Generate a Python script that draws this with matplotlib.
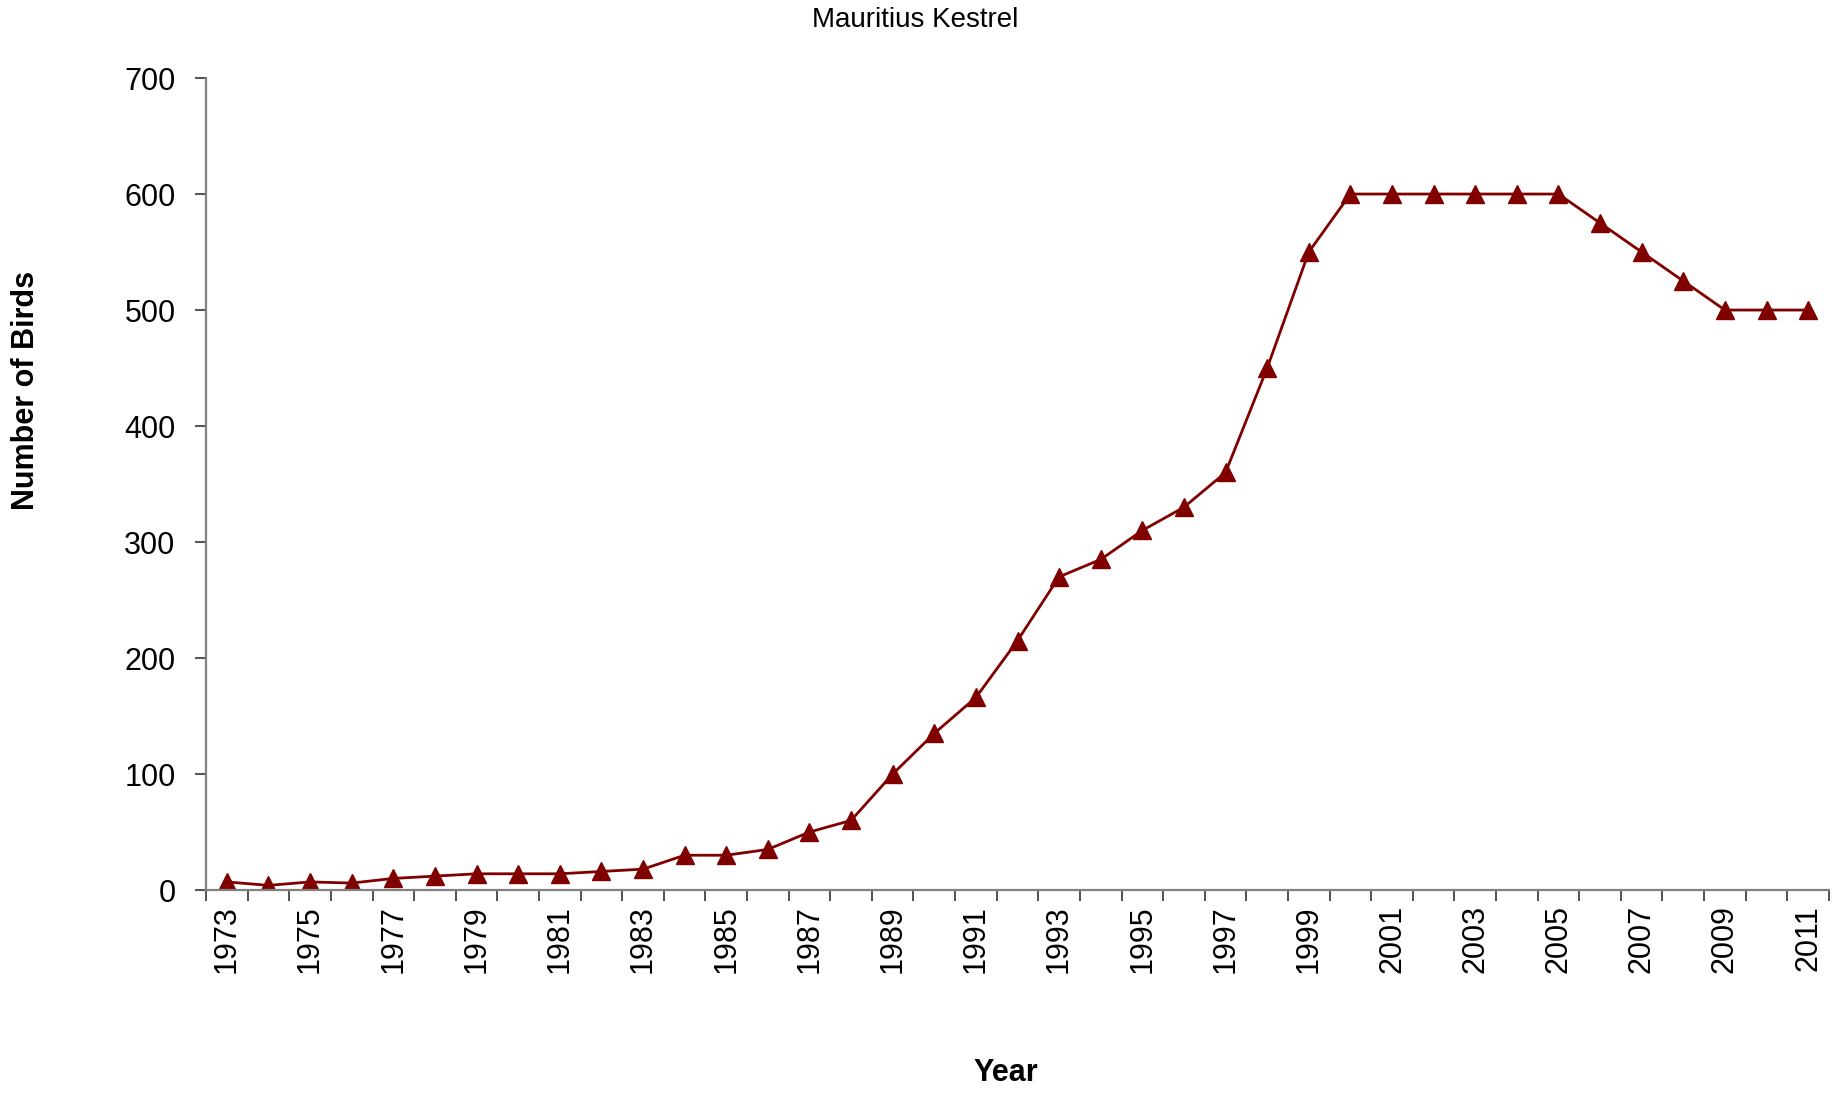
import numpy as np
import matplotlib
matplotlib.use("Agg")
import matplotlib.pyplot as plt

plt.rcParams['font.family'] = ['Liberation Sans', 'DejaVu Sans']

# data
years = list(range(1973, 2012))
birds = [7, 4, 7, 6, 10, 12, 14, 14, 14, 16,
         18, 30, 30, 35, 50, 60, 100, 135, 166, 215,
         270, 285, 310, 330, 360, 450, 550, 600, 600, 600,
         600, 600, 600, 575, 550, 525, 500, 500, 500]
tick_labels = [str(y) for y in years]

x = np.arange(len(years))

fig = plt.figure(figsize=(18.35, 10.93), dpi=100)
ax = fig.add_axes([0.1123, 0.1857, 0.9967 - 0.1123, 0.9286 - 0.1857])

ax.plot(x, birds, color='#800000', linewidth=2.0, marker='^', markersize=13,
        markerfacecolor='#800000', markeredgecolor='#800000')

ax.set_xlim(-0.5, len(years) - 0.5)
ax.set_ylim(0, 700)
ax.set_yticks(np.arange(0, 701, 100))

# labels on every other year, tick marks at category borders
ax.set_xticks(x[::2])
ax.set_xticklabels(tick_labels[::2], rotation=90)
ax.set_xticks(np.arange(-0.5, len(years), 1), minor=True)
ax.tick_params(axis='x', which='major', length=0, pad=11, labelsize=22)
ax.tick_params(axis='x', which='minor', length=8, width=1.2, color='#333333', direction='out')
ax.tick_params(axis='y', length=8, width=1.2, color='#333333', pad=14, labelsize=22)

for s in ['top', 'right']:
    ax.spines[s].set_visible(False)
for s in ['left', 'bottom']:
    ax.spines[s].set_color('#808080')
    ax.spines[s].set_linewidth(1.6)

fig.text(0.499, 1 - 20 / 1093, "Mauritius Kestrel", ha='center', va='center', fontsize=20)
fig.text(26 / 1835, 1 - 390 / 1093, "Number of Birds", ha='center', va='center',
         rotation=90, fontsize=22, fontweight='bold')
fig.text(1006 / 1835, 1 - 1073 / 1093, "Year", ha='center', va='center',
         fontsize=22, fontweight='bold')

fig.savefig("out.png", dpi=100)
